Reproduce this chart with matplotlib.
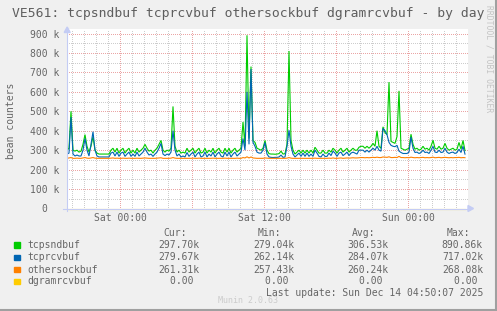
import numpy as np
import matplotlib
matplotlib.use('Agg')
import matplotlib.pyplot as plt
from matplotlib.lines import Line2D
from matplotlib.patches import Polygon

plt.rcParams['font.family'] = ['DejaVu Sans Mono']

# ---------------- data (values in thousands, one sample every 10 min, starting Fri 19:35) ----------------
step_min = 10
sat0_offset_min = 265  # Sat 00:00 is 265 min after the first sample

tcpsndbuf_k = [
    300, 310, 500, 300, 295, 300, 290, 295, 330, 380,
    320, 290, 320, 370, 300, 285, 280, 280, 280, 280,
    280, 280, 300, 310, 290, 310, 285, 300, 310, 285,
    300, 310, 285, 300, 285, 310, 290, 300, 310, 330,
    310, 295, 300, 285, 300, 310, 330, 350, 300, 290,
    300, 295, 310, 525, 320, 290, 300, 285, 290, 285,
    310, 290, 300, 310, 285, 300, 310, 285, 290, 310,
    285, 300, 290, 310, 285, 300, 310, 290, 285, 310,
    290, 310, 285, 300, 310, 290, 300, 310, 445, 320,
    890.86, 360, 730, 350, 340, 310, 305, 300, 310, 350,
    300, 282, 280, 280, 279.04, 280, 282, 295, 280, 282,
    330, 810, 350, 300, 280, 290, 300, 285, 300, 285,
    300, 285, 300, 285, 315, 300, 285, 285, 300, 285,
    285, 300, 290, 310, 300, 285, 300, 310, 290, 300,
    310, 290, 300, 310, 300, 300, 315, 320, 320, 310,
    320, 310, 320, 335, 320, 400, 320, 310, 420, 390,
    380, 650, 345, 340, 335, 370, 605, 310, 305, 300,
    305, 310, 382, 330, 305, 310, 300, 305, 320, 305,
    310, 300, 320, 351, 310, 305, 320, 305, 310, 335,
    310, 300, 305, 310, 300, 305, 340, 305, 350, 297.7,
]

tcprcvbuf_k = [
    280, 285, 470, 280, 270, 275, 270, 270, 300, 360,
    300, 270, 330, 395, 300, 270, 265, 265, 265, 265,
    265, 265, 285, 290, 270, 290, 268, 285, 290, 268,
    280, 290, 268, 280, 268, 290, 270, 280, 290, 310,
    290, 275, 280, 268, 280, 290, 310, 335, 280, 272,
    280, 275, 290, 400, 300, 270, 280, 265, 270, 265,
    288, 268, 280, 290, 265, 280, 290, 265, 270, 290,
    265, 280, 270, 290, 265, 280, 290, 270, 265, 290,
    270, 290, 265, 280, 290, 270, 280, 290, 360, 300,
    600, 330, 717.02, 340, 320, 290, 285, 285, 300, 340,
    280, 265, 263, 262.14, 263, 263, 265, 275, 263, 265,
    320, 403, 320, 280, 265, 275, 285, 268, 285, 268,
    285, 268, 280, 268, 300, 285, 268, 265, 280, 268,
    268, 285, 272, 295, 285, 268, 285, 290, 272, 280,
    290, 272, 285, 290, 285, 280, 300, 300, 300, 290,
    300, 290, 300, 310, 300, 320, 300, 295, 412, 400,
    380, 340, 325, 320, 318, 325, 295, 288, 283, 283,
    283, 290, 368, 310, 288, 290, 283, 288, 300, 288,
    290, 283, 300, 320, 290, 288, 300, 288, 290, 310,
    290, 283, 288, 290, 283, 288, 305, 288, 320, 279.67,
]

othersockbuf_k = [
    258, 260, 262, 258, 258, 259, 258, 258, 260, 262,
    259, 258, 260, 262, 259, 258, 258, 258, 258, 258,
    258, 258, 259, 260, 258, 259, 258, 258, 259, 258,
    258, 259, 258, 258, 258, 259, 258, 258, 259, 260,
    259, 258, 258, 258, 258, 259, 260, 261, 258, 258,
    258, 258, 259, 262, 259, 258, 258, 258, 258, 258,
    258, 258, 258, 259, 258, 258, 259, 258, 258, 258,
    258, 258, 258, 259, 258, 258, 258, 258, 258, 259,
    258, 258, 258, 258, 258, 259, 258, 258, 262, 260,
    266, 260, 265, 260, 259, 258, 258, 258, 258, 260,
    259, 258, 258, 258, 257.43, 258, 258, 258, 258, 258,
    259, 262, 259, 258, 258, 258, 258, 258, 258, 258,
    258, 258, 258, 258, 259, 258, 258, 258, 258, 258,
    258, 259, 258, 260, 258, 258, 259, 260, 258, 259,
    260, 259, 260, 261, 260, 260, 261, 262, 262, 261,
    262, 261, 262, 263, 262, 264, 262, 262, 265, 264,
    263, 266, 262, 262, 263, 262, 268.08, 262, 262, 261,
    262, 261, 264, 262, 261, 262, 261, 262, 263, 261,
    262, 261, 262, 264, 261, 262, 263, 261, 262, 263,
    262, 261, 262, 261, 262, 262, 263, 261, 262, 261.31,
]

dgramrcvbuf_k = [0.0] * len(tcpsndbuf_k)

series_names = ['tcpsndbuf', 'tcprcvbuf', 'othersockbuf', 'dgramrcvbuf']
series_colors = ['#00CC00', '#0066B3', '#FF8000', '#FFCC00']
cur_k = [297.70, 279.67, 261.31, 0.0]
min_k = [279.04, 262.14, 257.43, 0.0]
avg_k = [306.53, 284.07, 260.24, 0.0]
max_k = [890.86, 717.02, 268.08, 0.0]

y_ticks = [0, 100000, 200000, 300000, 400000, 500000, 600000, 700000, 800000, 900000]
y_tick_labels = ['0  ', '100 k', '200 k', '300 k', '400 k', '500 k', '600 k', '700 k', '800 k', '900 k']
x_tick_labels = ['Sat 00:00', 'Sat 12:00', 'Sun 00:00']

title = 'VE561: tcpsndbuf tcprcvbuf othersockbuf dgramrcvbuf - by day'
ylabel = 'bean counters'
last_update = 'Last update: Sun Dec 14 04:50:07 2025'

# ---------------- figure ----------------
W, H = 497, 311
FONT = '#666666'
fig = plt.figure(figsize=(W / 100, H / 100), dpi=100, facecolor='#F0F0F0')


def fx(x):
    return x / W


def fy(y):
    return 1 - y / H


ax_left, ax_top, ax_w, ax_h = 67, 28.5, 401, 180
ax = fig.add_axes([fx(ax_left), fy(ax_top + ax_h), ax_w / W, ax_h / H])
ax.set_facecolor('white')
ax.set_xlim(0, ax_w * 5)
ax.set_ylim(0, ax_h * 900000 / 175)
for s in ax.spines.values():
    s.set_visible(False)

dot = (0, (1, 2))
MINOR = '#CDCDCD'
MAJOR = '#EBA5A5'
# horizontal grid
for v in np.arange(50000, 900001, 100000):
    ax.axhline(v, color=MINOR, lw=0.72, ls=dot, zorder=1, antialiased=False)
for v in y_ticks[1:]:
    ax.axhline(v, color=MAJOR, lw=0.72, ls=dot, zorder=1.5, antialiased=False)
# vertical grid: every hour, major every 6 h
for k in range(-4, 30):
    t = sat0_offset_min + 60 * k
    if t <= 0 or t > ax_w * 5:
        continue
    if k % 6 == 0:
        ax.axvline(t, color=MAJOR, lw=0.72, ls=dot, zorder=1.5, antialiased=False)
    else:
        ax.axvline(t, color=MINOR, lw=0.72, ls=dot, zorder=1, antialiased=False)

times = np.arange(len(tcpsndbuf_k)) * step_min
all_series = [tcpsndbuf_k, tcprcvbuf_k, othersockbuf_k, dgramrcvbuf_k]
for i, (vals, col) in enumerate(zip(all_series, series_colors)):
    ax.plot(times, np.array(vals) * 1000, color=col, lw=0.8, zorder=3 + i,
            clip_on=(i != 3), solid_joinstyle='miter')

ax.set_yticks(y_ticks)
ax.set_yticklabels(y_tick_labels)
ax.set_xticks([sat0_offset_min, sat0_offset_min + 720, sat0_offset_min + 1440])
ax.set_xticklabels(x_tick_labels)
ax.tick_params(axis='both', length=0, labelsize=7, labelcolor=FONT)
ax.tick_params(axis='y', pad=5.2)
ax.tick_params(axis='x', pad=3.2)

# axes lines with arrows
AX = '#C4CCF4'
fig.add_artist(Line2D([fx(63), fx(469)], [fy(208.5), fy(208.5)], color=AX, lw=0.8, zorder=2))
fig.add_artist(Line2D([fx(67.2), fx(67.2)], [fy(211), fy(31)], color=AX, lw=0.8, zorder=2))
fig.add_artist(Polygon([[fx(468), fy(205.5)], [fx(468), fy(211.5)], [fx(473.5), fy(208.5)]],
                       closed=True, color=AX, zorder=2))
fig.add_artist(Polygon([[fx(64.2), fy(32.5)], [fx(70.2), fy(32.5)], [fx(67.2), fy(27)]],
                       closed=True, color=AX, zorder=2))

# texts
fig.text(fx(248), fy(13), title, ha='center', va='center', fontsize=9.4, color='#5E5E5E')
fig.text(fx(11), fy(121), ylabel, ha='center', va='center', rotation=90, fontsize=7, color=FONT)
fig.text(fx(489), fy(5), 'RRDTOOL / TOBI OETIKER', ha='center', va='top', rotation=270,
         fontsize=5.8, color='#C4C4C4')

# legend
row_y = [245, 257.3, 269.7, 281.3]
header_y = 233.3
for lx, lab in zip([163, 258, 352, 447], ['Cur:', 'Min:', 'Avg:', 'Max:']):
    fig.text(fx(lx), fy(header_y), lab, ha='left', va='center', fontsize=7, color=FONT)


def fmt(v):
    return f'{v:.2f}k' if v != 0 else '0.00 '


for i, name in enumerate(series_names):
    y = row_y[i]
    fig.add_artist(plt.Rectangle((fx(14), fy(y + 2.7)), 5.5 / W, 5.5 / H, color=series_colors[i]))
    fig.text(fx(27), fy(y), name, ha='left', va='center', fontsize=7, color=FONT)
    for rx, vals in zip([199.5, 294, 388.5, 483], [cur_k, min_k, avg_k, max_k]):
        fig.text(fx(rx), fy(y), fmt(vals[i]), ha='right', va='center', fontsize=7, color=FONT)

fig.text(fx(483), fy(292.7), last_update, ha='right', va='center', fontsize=7, color=FONT)
fig.text(fx(247.5), fy(300.5), 'Munin 2.0.63', ha='center', va='center', fontsize=6, color='#CCCCCC')

# border (bottom/right darker)
fig.add_artist(Line2D([0, 1], [fy(310), fy(310)], color='#A0A0A0', lw=1.5))
fig.add_artist(Line2D([fx(496), fx(496)], [0, 1], color='#A0A0A0', lw=1.5))

fig.savefig('out.png', dpi=100, facecolor=fig.get_facecolor())
